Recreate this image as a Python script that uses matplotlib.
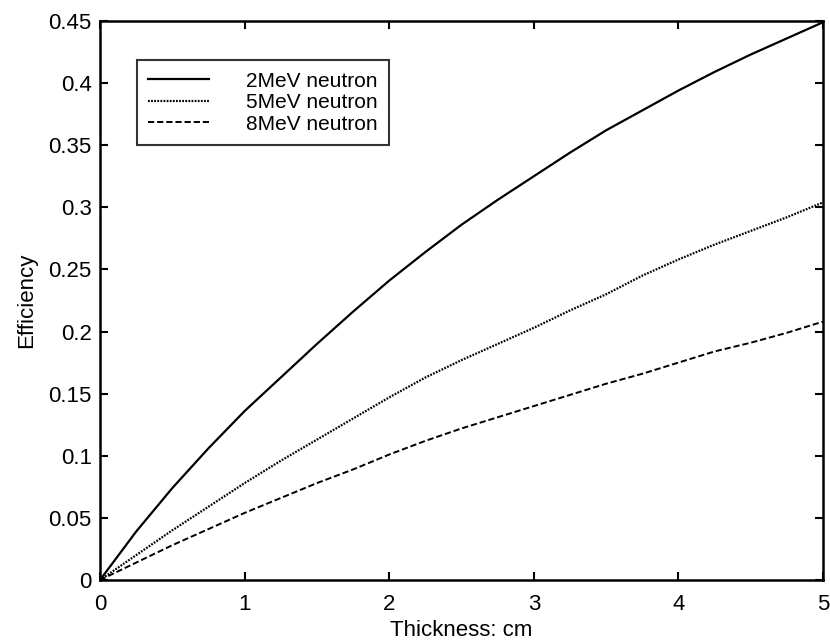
import numpy as np
import matplotlib
matplotlib.use('Agg')
import matplotlib.pyplot as plt

thickness = [0, 0.25, 0.5, 0.75, 1, 1.25, 1.5, 1.75, 2, 2.25, 2.5,
             2.75, 3, 3.25, 3.5, 3.75, 4, 4.25, 4.5, 4.75, 5]
eff_2mev = [0, 0.039, 0.074, 0.106, 0.136, 0.163, 0.190, 0.216, 0.241, 0.264, 0.286,
            0.306, 0.325, 0.344, 0.362, 0.378, 0.394, 0.409, 0.423, 0.436, 0.449]
eff_5mev = [0, 0.020, 0.040, 0.059, 0.078, 0.096, 0.113, 0.130, 0.147, 0.163, 0.177,
            0.190, 0.203, 0.217, 0.230, 0.245, 0.258, 0.270, 0.281, 0.292, 0.304]
eff_8mev = [0, 0.014, 0.028, 0.041, 0.054, 0.066, 0.078, 0.089, 0.101, 0.112, 0.122,
            0.131, 0.140, 0.149, 0.158, 0.166, 0.175, 0.184, 0.191, 0.199, 0.208]
labels = ['2MeV neutron', '5MeV neutron', '8MeV neutron']

plt.rcParams['font.family'] = ['Liberation Sans', 'DejaVu Sans']

fig = plt.figure(figsize=(8.3, 6.44), dpi=100)
ax = fig.add_axes([100 / 830, 64 / 644, 723 / 830, 559 / 644])

ax.plot(thickness, eff_2mev, color='black', lw=1.6, ls='-', label=labels[0])
ax.plot(thickness, eff_5mev, color='black', lw=1.6, ls=(0, (0.8, 0.6)), label=labels[1])
ax.plot(thickness, eff_8mev, color='black', lw=1.4, ls=(0, (3.2, 1.5)), label=labels[2])

ax.set_xlim(0, 5)
ax.set_ylim(0, 0.45)
ax.set_xticks([0, 1, 2, 3, 4, 5])
ax.set_yticks(np.arange(0, 0.451, 0.05))
ax.set_yticklabels(['0', '0.05', '0.1', '0.15', '0.2', '0.25', '0.3', '0.35', '0.4', '0.45'])
ax.tick_params(direction='in', length=6, width=1.5, top=True, right=True, labelsize=16)
ax.tick_params(axis='x', pad=10)
ax.tick_params(axis='y', pad=6)
for sp in ax.spines.values():
    sp.set_linewidth(1.8)

ax.set_xlabel('Thickness: cm', fontsize=16, labelpad=4)
ax.set_ylabel('Efficiency', fontsize=16, labelpad=8)

leg = ax.legend(loc='upper left', bbox_to_anchor=(0.051, 0.93), fontsize=15,
                frameon=True, fancybox=False, edgecolor='black', handlelength=2.9,
                handletextpad=1.8, labelspacing=0.12, borderpad=0.55, borderaxespad=0)
leg.get_frame().set_linewidth(1.5)

fig.savefig('out.png', dpi=100)
